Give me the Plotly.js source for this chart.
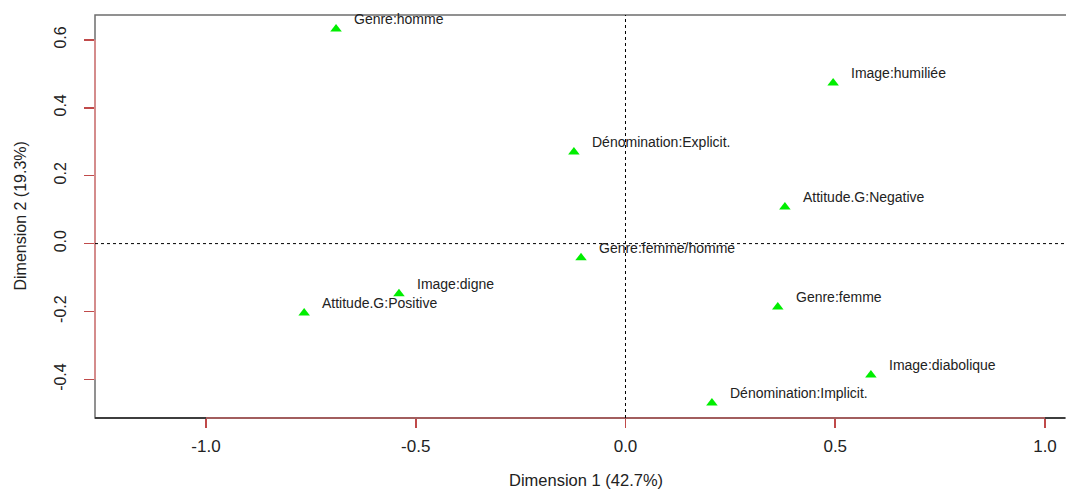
<!DOCTYPE html>
<html>
<head>
<meta charset="utf-8">
<script src="https://cdn.plot.ly/plotly-3.0.1.min.js"></script>
<style>html,body{margin:0;padding:0;background:#fff;}#chart{width:1066px;height:490px;}</style>
</head>
<body>
<div id="chart"></div>
<script>
// Category labels (MCA modalities)
const labels = [
  "Genre:homme",
  "Image:humiliée",
  "Dénomination:Explicit.",
  "Attitude.G:Negative",
  "Genre:femme/homme",
  "Image:digne",
  "Attitude.G:Positive",
  "Genre:femme",
  "Image:diabolique",
  "Dénomination:Implicit."
];
// Dimension 1 coordinates
const dim1 = [-0.690, 0.495, -0.123, 0.380, -0.106, -0.540, -0.766, 0.363, 0.585, 0.206];
// Dimension 2 coordinates
const dim2 = [0.632, 0.473, 0.270, 0.108, -0.042, -0.148, -0.204, -0.187, -0.387, -0.469];

const xTicks = [-1.0, -0.5, 0.0, 0.5, 1.0];
const xTickText = ["-1.0", "-0.5", "0.0", "0.5", "1.0"];
const yTicks = [-0.4, -0.2, 0.0, 0.2, 0.4, 0.6];
const yTickText = ["-0.4", "-0.2", "0.0", "0.2", "0.4", "0.6"];

const xTitle = "Dimension 1 (42.7%)";
const yTitle = "Dimension 2 (19.3%)";

const FONT = "Liberation Sans, Arial, sans-serif";
const axisRed = "#d48c8c";
const tickRed = "#c04a4a";

const trace = {
  type: "scatter",
  mode: "markers",
  x: dim1,
  y: dim2,
  marker: {symbol: "triangle-up", color: "#00ee00", size: 10, line: {width: 0}},
  hoverinfo: "text",
  text: labels,
  showlegend: false
};

const annotations = labels.map((t, i) => ({
  x: dim1[i], y: dim2[i], xref: "x", yref: "y",
  text: t, showarrow: false,
  xanchor: "left", yanchor: "middle",
  xshift: 16, yshift: 10,
  font: {family: FONT, size: 14, color: "#222"}
}));

annotations.push({
  xref: "paper", yref: "paper", x: 0.5067, y: 0,
  yshift: -62, xanchor: "center", yanchor: "middle",
  text: xTitle, showarrow: false,
  font: {family: FONT, size: 16.5, color: "#222"}
});
annotations.push({
  xref: "paper", yref: "paper", x: 0, y: 0.5,
  xshift: -75, xanchor: "center", yanchor: "middle",
  text: yTitle, showarrow: false, textangle: -90,
  font: {family: FONT, size: 16, color: "#222"}
});

const shapes = [
  // plot box
  {type: "rect", xref: "paper", yref: "paper", x0: 0, x1: 1.01, y0: 0, y1: 1,
   line: {color: "#6e6e6e", width: 1.5}, layer: "above"},
  {type: "line", xref: "paper", yref: "paper", x0: 0, x1: 1, y0: 0, y1: 0,
   line: {color: "#222", width: 1.5}, layer: "above"},
  // axis lines (R-style, from first to last tick)
  {type: "line", xref: "x", yref: "paper", x0: xTicks[0], x1: xTicks[xTicks.length - 1], y0: 0, y1: 0,
   line: {color: "#c46a6a", width: 1.5}, layer: "above"},
  {type: "line", xref: "paper", yref: "y", x0: 0, x1: 0, y0: yTicks[0], y1: yTicks[yTicks.length - 1],
   line: {color: axisRed, width: 2}, layer: "above"},
  // origin dotted lines
  {type: "line", xref: "x", yref: "paper", x0: 0, x1: 0, y0: 0, y1: 1,
   line: {color: "#000", width: 1, dash: "dot"}},
  {type: "line", xref: "paper", yref: "y", x0: 0, x1: 1, y0: 0, y1: 0,
   line: {color: "#000", width: 1, dash: "dot"}}
];

const layout = {
  width: 1066, height: 490,
  margin: {l: 95, r: 1, t: 15, b: 72, pad: 0},
  paper_bgcolor: "#fff", plot_bgcolor: "#fff",
  font: {family: FONT, color: "#222"},
  showlegend: false,
  xaxis: {
    range: [-1.2646, 1.0477], autorange: false,
    showgrid: false, zeroline: false, showline: false,
    tickmode: "array", tickvals: xTicks, ticktext: xTickText,
    ticks: "outside", ticklen: 9, tickwidth: 1.5, tickcolor: tickRed,
    ticklabelstandoff: 4,
    tickfont: {family: FONT, size: 17, color: "#222"}
  },
  yaxis: {
    range: [-0.5135, 0.6731], autorange: false,
    showgrid: false, zeroline: false, showline: false,
    tickmode: "array", tickvals: yTicks, ticktext: yTickText,
    ticks: "outside", ticklen: 10, tickwidth: 1.5, tickcolor: tickRed,
    tickangle: -90, ticklabelstandoff: 12,
    tickfont: {family: FONT, size: 16, color: "#222"}
  },
  shapes: shapes,
  annotations: annotations
};

Plotly.newPlot("chart", [trace], layout, {displayModeBar: false, staticPlot: true});
</script>
</body>
</html>
